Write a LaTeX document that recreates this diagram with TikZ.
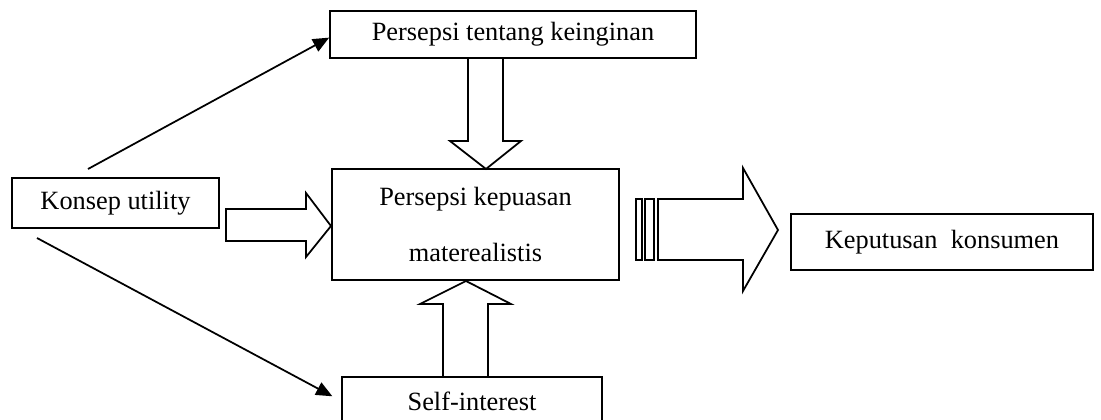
\documentclass[tikz,border=0pt]{standalone}
\usepackage{fontspec}
\setmainfont{Liberation Serif}
\usetikzlibrary{arrows.meta,positioning}

\tikzset{
    box/.style={draw, line width=0.8pt, inner sep=0pt, align=center,
        font=\fontsize{12}{14}\selectfont},
    blockarrow/.style={draw, line width=0.8pt, line join=miter},
    thinarrow/.style={line width=0.8pt, -{Triangle[length=0.26cm,width=0.22cm]}}
}

\begin{document}
\begin{tikzpicture}[x=0.016cm, y=-0.016cm]
        \clip (0, 0) rectangle (1101, 420);
        \fill[white] (0, 0) rectangle (1101, 420);

        % boxes
        \node[box, minimum width=5.856cm, minimum height=0.752cm] (wish) at (513, 34.5) {Persepsi tentang keinginan};
        \node[box, minimum width=4.592cm, minimum height=1.776cm] (satisf) at (475.5, 224.5) {Persepsi kepuasan\\[0.39cm]materealistis};
        \node[box, minimum width=3.312cm, minimum height=0.8cm] (util) at (115.5, 203) {Konsep utility};
        \node[box, minimum width=4.832cm, minimum height=0.896cm] (decision) at (942, 242) {Keputusan\ \ konsumen};
        \node[box, minimum width=4.16cm, minimum height=0.768cm] (self) at (472, 401) {Self-interest};

        % thin arrows from Konsep utility
        \coordinate (utiltop) at (88, 169);
        \coordinate (utilbot) at (37, 238);
        \draw[thinarrow] (utiltop) -- ([yshift=-0.05cm]wish.west);
        \draw[thinarrow, shorten >=0.16cm] (utilbot) -- (self.west);

        % block arrows into the middle box
        \draw[blockarrow] (468, 58) -- (468, 141) -- (450, 141) -- (486, 169)
            -- (521, 141) -- (503, 141) -- (503, 58);
        \draw[blockarrow] (226, 209) -- (306, 209) -- (306, 193) -- (331, 226)
            -- (306, 257) -- (306, 241) -- (226, 241) -- cycle;
        \draw[blockarrow] (443, 377) -- (443, 304) -- (420, 304) -- (466, 281)
            -- (511, 304) -- (488, 304) -- (488, 377);

        % striped arrow to the decision
        \draw[blockarrow] (636, 199) rectangle (642, 260);
        \draw[blockarrow] (645, 199) rectangle (654, 260);
        \draw[blockarrow] (658, 199) -- (743, 199) -- (743, 168) -- (778, 230)
            -- (743, 291) -- (743, 260) -- (658, 260) -- cycle;
\end{tikzpicture}
\end{document}
